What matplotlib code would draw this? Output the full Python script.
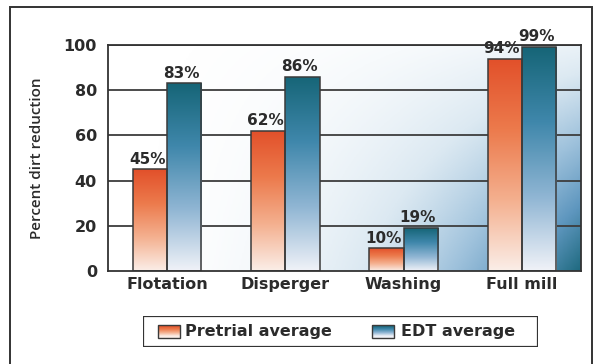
import numpy as np
import matplotlib.pyplot as plt
from matplotlib.colors import LinearSegmentedColormap
from matplotlib.patches import Rectangle

# ── Data ─────────────────────────────────────────────────────────────────────
categories = ["Flotation", "Disperger", "Washing", "Full mill"]
pretrial = [45, 62, 10, 94]
edt = [83, 86, 19, 99]
series_names = ["Pretrial average", "EDT average"]
y_ticks = [0, 20, 40, 60, 80, 100]
# ─────────────────────────────────────────────────────────────────────────────

FONT = "DejaVu Sans"
TXT = "#2b2b2b"
EDGE = "#3a3a3a"

orange_cmap = LinearSegmentedColormap.from_list(
    "orange", ["#fbeee8", "#f4b08f", "#ec7a4c", "#e2502a"]
)
teal_cmap = LinearSegmentedColormap.from_list(
    "teal", ["#f0f2f8", "#8fb5d3", "#3f87ab", "#166577"]
)
bg_cmap = LinearSegmentedColormap.from_list(
    "bg", ["#ffffff", "#dce9f2", "#9fc2dc", "#5f97bf", "#1f6a80"]
)

fig = plt.figure(figsize=(5.95, 3.64), dpi=100)
fig.patch.set_facecolor("white")

# outer frame (runs off the bottom like the scan)
fig.patches.append(
    Rectangle((10 / 595, -0.05), 582 / 595, 1.05 - 7 / 364, transform=fig.transFigure,
              fill=False, edgecolor="#333333", linewidth=1.4)
)

ax = fig.add_axes([108 / 595, 93 / 364, 473 / 595, 226 / 364])
x = np.arange(len(categories))
width = 0.29
ax.set_xlim(-0.5, 3.5)
ax.set_ylim(0, 100)

# background gradient: white upper-left to blue lower-right
xx, yy = np.meshgrid(np.linspace(0, 1, 300), np.linspace(1, 0, 200))
w = np.clip(xx**2.2 * (1 - 0.85 * yy), 0, 1)
ax.imshow(w, cmap=bg_cmap, vmin=0, vmax=1, aspect="auto",
          extent=(-0.5, 3.5, 0, 100), zorder=0, interpolation="bilinear")

for t in y_ticks[1:]:
    ax.axhline(t, color="#3d3d3d", linewidth=1.3, zorder=1)

grad = np.linspace(1, 0, 256).reshape(-1, 1)
for vals, off, cmap in [(pretrial, -width / 2, orange_cmap), (edt, width / 2, teal_cmap)]:
    bars = ax.bar(x + off, vals, width, facecolor="none", edgecolor=EDGE,
                  linewidth=1.1, zorder=3)
    for b, v in zip(bars, vals):
        im = ax.imshow(grad, cmap=cmap, vmin=0, vmax=1, aspect="auto",
                       extent=(b.get_x(), b.get_x() + b.get_width(), 0, b.get_height()),
                       zorder=2, interpolation="bilinear")
        im.set_clip_path(b)
        ax.annotate(f"{v}%", (b.get_x() + b.get_width() / 2, b.get_height()),
                    xytext=(-2, 2), textcoords="offset points", ha="center", va="bottom",
                    fontsize=11, fontweight="bold", color=TXT, family=FONT, zorder=4)

ax.set_xticks(x)
ax.set_xticklabels(categories, fontsize=11.5, fontweight="bold", color=TXT, family=FONT)
ax.set_yticks(y_ticks)
ax.set_yticklabels([str(t) for t in y_ticks], fontsize=11.5, fontweight="bold",
                   color=TXT, family=FONT)
ax.tick_params(length=0)
ax.tick_params(axis="y", pad=8)
ax.tick_params(axis="x", pad=4)
for s in ax.spines.values():
    s.set_color("#333333")
    s.set_linewidth(1.3)
    s.set_zorder(5)

ax.set_ylabel("Percent dirt reduction", fontsize=11, color=TXT, family="Open Sans",
              fontweight="semibold", labelpad=14)

# legend drawn by hand so the swatches keep the gradient
lax = fig.add_axes([143 / 595, 17 / 364, 395 / 595, 31 / 364])
lax.set_xlim(0, 395)
lax.set_ylim(0, 31)
lax.axis("off")
lax.add_patch(Rectangle((0, 0), 395, 31, fill=False, edgecolor="#333333", linewidth=1.6))
for sx, tx, name, cmap in [(15, 42, series_names[0], orange_cmap),
                           (229, 258, series_names[1], teal_cmap)]:
    lax.imshow(grad, cmap=cmap, vmin=0.15, vmax=0.95, aspect="auto",
               extent=(sx, sx + 22, 9, 22), zorder=1)
    lax.add_patch(Rectangle((sx, 9), 22, 13, fill=False, edgecolor=EDGE, linewidth=1, zorder=2))
    lax.text(tx, 15.5, name, fontsize=11.5, fontweight="bold", color=TXT, family=FONT,
             va="center", ha="left")
lax.set_xlim(0, 395)
lax.set_ylim(0, 31)

fig.savefig("out.png", dpi=100)
